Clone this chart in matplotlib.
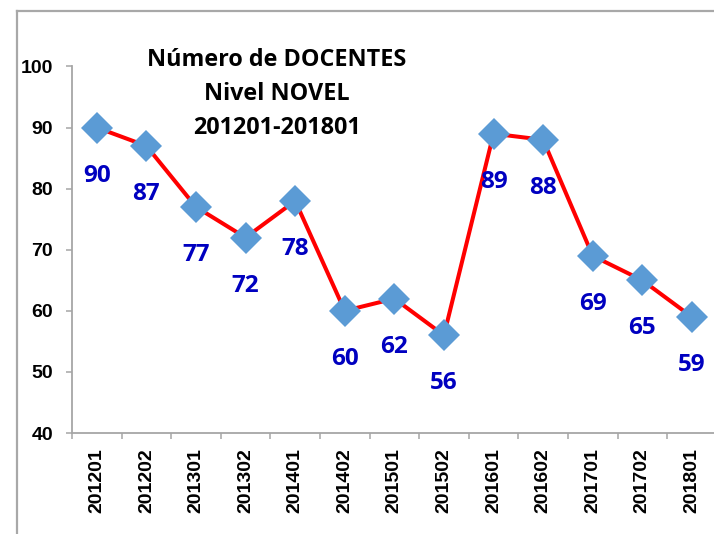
import matplotlib
matplotlib.use("Agg")
import matplotlib.pyplot as plt
from matplotlib.lines import Line2D

categories = ["201201", "201202", "201301", "201302", "201401", "201402", "201501",
              "201502", "201601", "201602", "201701", "201702", "201801"]
values = [90, 87, 77, 72, 78, 60, 62, 56, 89, 88, 69, 65, 59]
yticks = [40, 50, 60, 70, 80, 90, 100]
title_lines = ["Número de DOCENTES", "Nivel NOVEL", "201201-201801"]

W, H = 714, 534
fig = plt.figure(figsize=(W / 100, H / 100), dpi=100)

# outer chart frame
fx, fy = 16.5 / W, 1 - 10.5 / H
fig.add_artist(Line2D([fx, fx], [fy, -0.01], color="#A8A8A8", lw=1.6, transform=fig.transFigure))
fig.add_artist(Line2D([fx, 1.01], [fy, fy], color="#A8A8A8", lw=1.6, transform=fig.transFigure))

left, right = 72 / W, 716.7 / W
bottom, top = 1 - 433 / H, 1 - 66.5 / H
ax = fig.add_axes([left, bottom, right - left, top - bottom])

x = list(range(len(categories)))
ax.plot(x, values, color="#FF0000", lw=2.9, zorder=2, solid_joinstyle="round")
ax.plot(x, values, linestyle="none", marker="D", markersize=16.8,
        markerfacecolor="#5B9BD5", markeredgecolor="#5B9BD5", markeredgewidth=0, zorder=3)

for xi, v in zip(x, values):
    ax.annotate(str(v), (xi, v), xytext=(0, -54), textcoords="offset pixels",
                ha="center", va="baseline", fontsize=17.5, fontweight="bold",
                color="#0000C0", family=["Open Sans", "DejaVu Sans"], zorder=4)

ax.set_xlim(-0.5, len(categories) - 0.5)
ax.set_ylim(40, 100)
ax.set_yticks(yticks)
ax.set_yticklabels([str(t) for t in yticks])
ax.set_xticks(x)
ax.set_xticklabels(categories, rotation=90)
ax.set_xticks([i - 0.5 for i in range(len(categories) + 1)], minor=True)

for lab in ax.get_xticklabels() + ax.get_yticklabels():
    lab.set_fontweight("bold")
    lab.set_fontsize(14)
    lab.set_family(["Liberation Sans", "DejaVu Sans"])

ax.tick_params(axis="x", which="major", length=0, pad=11)
ax.tick_params(axis="x", which="minor", length=4.5, width=1.1, color="#A6A6A6", direction="out")
ax.tick_params(axis="y", which="major", length=4.5, width=1.1, color="#A6A6A6", direction="out", pad=9)

for s in ["top", "right"]:
    ax.spines[s].set_visible(False)
for s in ["left", "bottom"]:
    ax.spines[s].set_color("#A6A6A6")
    ax.spines[s].set_linewidth(1.3)
ax.set_facecolor("none")

# title
tx = 277 / W
for i, line in enumerate(title_lines):
    yb = 1 - (65.5 + 34.5 * i) / H
    fig.text(tx, yb, line, ha="center", va="baseline", fontsize=16.8, fontweight="bold",
             color="black", family=["Open Sans", "DejaVu Sans"])

fig.savefig("out.png", dpi=100)
